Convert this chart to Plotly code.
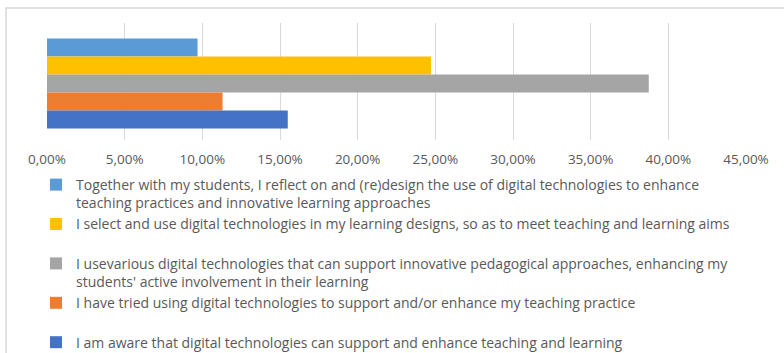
import plotly.graph_objects as go

# survey answers, top bar first
labels = [
    "Together with my students, I reflect on and (re)design the use of digital technologies to enhance<br>teaching practices and innovative learning approaches",
    "I select and use digital technologies in my learning designs, so as to meet teaching and learning aims<br> ",
    "I usevarious digital technologies that can support innovative pedagogical approaches, enhancing my<br>students' active involvement in their learning",
    "I have tried using digital technologies to support and/or enhance my teaching practice<br> ",
    "I am aware that digital technologies can support and enhance teaching and learning<br> ",
]
shares = [0.0969, 0.2472, 0.3874, 0.1130, 0.1550]
colors = ["#5B9BD5", "#FFC000", "#A5A5A5", "#ED7D31", "#4472C4"]
x_ticks = [0, 0.05, 0.10, 0.15, 0.20, 0.25, 0.30, 0.35, 0.40, 0.45]

W, H = 784, 353
L, R, T, B = 47, 38, 23, 213
pw, ph = W - L - R, H - T - B

fig = go.Figure()
for i, (lab, v, c) in enumerate(zip(labels, shares, colors)):
    fig.add_trace(go.Bar(
        y=[""], x=[v], name=lab, orientation="h",
        marker=dict(color=c, line=dict(width=0)),
        legendgroup=f"g{i}", hoverinfo="x+name",
    ))

def px_x(p):
    return (p - L) / pw

def px_y(p):
    return (H - B - p) / ph

fig.update_layout(
    width=W, height=H,
    margin=dict(l=L, r=R, t=T, b=B, autoexpand=False),
    paper_bgcolor="white", plot_bgcolor="white",
    barmode="group", bargap=0.23, bargroupgap=0,
    separators=",.",
    font=dict(family="Open Sans, Carlito, Calibri, sans-serif", color="#595959", size=12),
    xaxis=dict(
        range=[0, 0.45], tickvals=x_ticks, tickformat=".2%",
        showgrid=True, gridcolor="#D9D9D9", gridwidth=1,
        zeroline=False, showline=False, ticks="",
        ticklabelstandoff=9,
        tickfont=dict(size=13.5, color="#595959"),
        fixedrange=True,
    ),
    yaxis=dict(
        visible=False, range=[0.483, -0.517], fixedrange=True,
    ),
    showlegend=True,
    legend=dict(
        x=px_x(36), y=px_y(169), xanchor="left", yanchor="top",
        orientation="v", valign="top", traceorder="grouped",
        tracegroupgap=0, bgcolor="rgba(0,0,0,0)", maxheight=400,
        font=dict(size=14, color="#595959"),
    ),
    shapes=[dict(
        type="rect", xref="paper", yref="paper",
        x0=px_x(6), x1=px_x(W + 10), y0=px_y(H + 10), y1=px_y(8),
        line=dict(color="#D9D9D9", width=1.5), fillcolor="rgba(0,0,0,0)",
        layer="below",
    )],
)

# the page body has a default 8px margin; drop it so the figure sits at 0,0
fig.write_html(
    "out.html",
    config={"displayModeBar": False},
    post_script="document.body.style.margin = '0';",
)
